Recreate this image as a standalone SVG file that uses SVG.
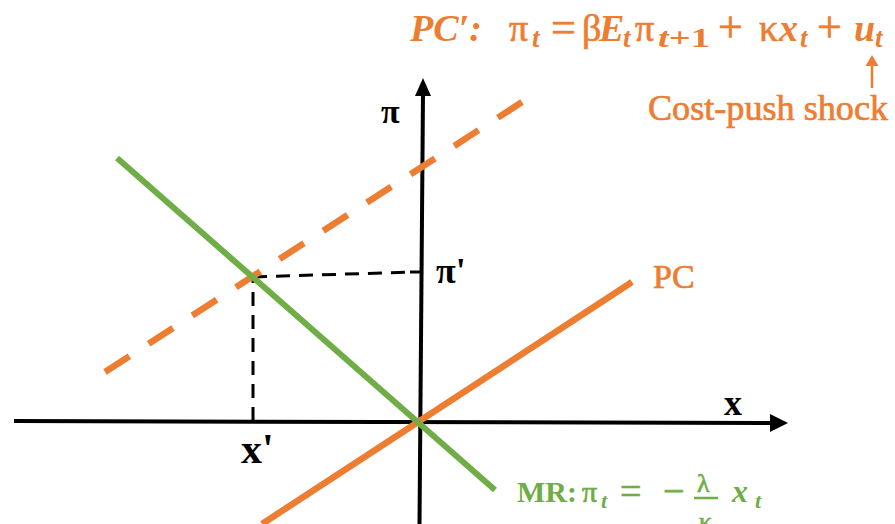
<svg xmlns="http://www.w3.org/2000/svg" width="895" height="524" viewBox="0 0 895 524">
<style>
.or{fill:#ED7D31}
.gr{fill:#70AD47}
.blk{fill:#000}
.t{font-family:"Liberation Serif","DejaVu Serif",serif}
.b{font-weight:bold}
.i{font-style:italic}
.so{stroke:#ED7D31;stroke-width:0.7}
.sg{stroke:#70AD47;stroke-width:0.7}
.axis{stroke:#000;stroke-width:4;fill:none}
.guide{stroke:#000;stroke-width:3;stroke-dasharray:14 9;fill:none}
.pc{stroke:#ED7D31;stroke-width:6.5;fill:none}
.pcd{stroke:#ED7D31;stroke-width:6.5;fill:none;stroke-dasharray:29 23}
.mr{stroke:#70AD47;stroke-width:6;fill:none}
</style>
<rect width="895" height="524" fill="#fff"/>
<g id="connectors">
  <line class="axis" x1="14" y1="421" x2="772" y2="423"/>
  <polygon class="blk" points="788,423 770,414 770,432"/>
  <line class="axis" x1="419.5" y1="524" x2="423" y2="94"/>
  <polygon class="blk" points="423,78 415,96 431,96"/>
  <line class="guide" x1="253" y1="421" x2="253" y2="278"/>
  <line class="guide" x1="253" y1="277" x2="412" y2="272"/>
  <line x1="410" y1="272" x2="421" y2="272" stroke="#000" stroke-width="3"/>
  <line class="pc" x1="262" y1="524" x2="632" y2="282"/>
  <line class="pcd" x1="105" y1="372" x2="522" y2="102"/>
  <line class="mr" x1="117" y1="158" x2="495" y2="490"/>
  <line x1="872" y1="88" x2="872" y2="64" stroke="#ED7D31" stroke-width="2.5"/>
  <polygon class="or" points="872,55 865.5,66 878.5,66"/>
</g>
<g id="axis-labels">
  <text class="t b blk" x="381" y="123" font-size="34">π</text>
  <text class="t b blk" x="724" y="415" font-size="36">x</text>
  <text class="t b blk" x="436" y="283" font-size="36">π'</text>
  <text class="t b blk" x="241" y="463" font-size="42">x'</text>
</g>
<g id="pc-label">
  <text class="t or so" x="653" y="288" font-size="34">PC</text>
</g>
<g id="pc-prime-equation" class="t or">
  <text x="410" y="41" font-size="38" class="b i">PC′:</text>
  <text x="509" y="41" font-size="38" class="so">π</text>
  <text x="532" y="47" font-size="27" class="b i">t</text>
  <text x="551" y="42" font-size="44" class="so">=</text>
  <text x="582" y="41" font-size="38" class="so">β</text>
  <text x="599" y="41" font-size="38" class="b i">E</text>
  <text x="623" y="47" font-size="27" class="b i">t</text>
  <text x="635" y="41" font-size="38" class="so">π</text>
  <text x="658" y="47" font-size="28" class="b" textLength="52" lengthAdjust="spacingAndGlyphs"><tspan class="i">t</tspan>+1</text>
  <text x="718" y="42" font-size="44" class="so">+</text>
  <text x="759" y="41" font-size="38" class="so">κ</text>
  <text x="779" y="41" font-size="38" class="b i">x</text>
  <text x="800" y="47" font-size="27" class="b i">t</text>
  <text x="817" y="42" font-size="44" class="so">+</text>
  <text x="854" y="41" font-size="38" class="b i">u</text>
  <text x="875" y="47" font-size="27" class="b i">t</text>
</g>
<g id="cost-push-label">
  <text class="t or so" x="648" y="120" font-size="36" textLength="240" lengthAdjust="spacingAndGlyphs">Cost-push shock</text>
</g>
<g id="mr-label" class="t gr">
  <text x="517" y="502" font-size="30" class="b">MR:</text>
  <text x="582" y="502" font-size="30" class="sg">π</text>
  <text x="601" y="508" font-size="22" class="b i">t</text>
  <text x="620" y="504" font-size="38" class="sg">=</text>
  <text x="663" y="504" font-size="38" class="sg">−</text>
  <text x="697" y="492" font-size="26" class="sg">λ</text>
  <line x1="694" y1="498" x2="718" y2="498" stroke="#70AD47" stroke-width="2.5"/>
  <text x="699" y="530" font-size="26" class="sg">κ</text>
  <text x="732" y="502" font-size="32" class="b i">x</text>
  <text x="755" y="508" font-size="22" class="b i">t</text>
</g>
</svg>
